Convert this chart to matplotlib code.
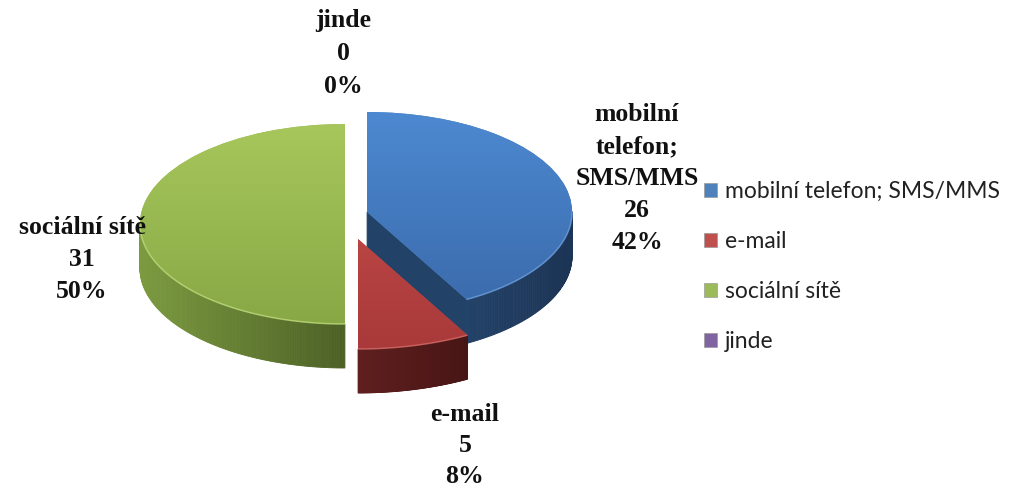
import numpy as np
import matplotlib
matplotlib.use("Agg")
import matplotlib.pyplot as plt
from matplotlib.colors import to_rgb

# ---------------- data ----------------
categories = ["mobilní telefon; SMS/MMS", "e-mail", "sociální sítě", "jinde"]
label_names = ["mobilní\ntelefon;\nSMS/MMS", "e-mail", "sociální sítě", "jinde"]
values = [26, 5, 31, 0]

# ---------------- style ----------------
W, H = 1013, 491
CX, CY = 356, 226          # pie centre (pixels from top-left)
RX, RY = 205, 100          # ellipse radii (pixels)
DEPTH = 44 / RY            # side depth in y data units

base_colors = ["#4f81bd", "#c0504d", "#9bbb59", "#8064a2"]
top_grad = [("#4d89d1", "#3a6aab"), ("#c9504d", "#a9393a"),
            ("#a7c75c", "#87a845"), ("#8a6fae", "#6f5592")]
side_grad = [("#234268", "#1c3455"), ("#601f1f", "#481515"),
             ("#7c9b40", "#4d6126"), ("#4f3c66", "#3f2f52")]
rim_colors = ["#6c9fdc", "#d26b68", "#bcd97a", "#9c86bd"]
offsets = [(0.054, 0.14), (0.01, -0.13), (-0.054, 0.02), (0.0, 0.0)]
radii = [1.0, 1.1, 1.0, 1.0]   # perspective: the front slice looks larger

label_pos = [(637, 116), (465, 416), (82, 229), (343, 22)]  # pixels, first line centre
label_spacing = [1.5, 1.45, 1.5, 1.55]
LAB_SIZE = 18.5

fig = plt.figure(figsize=(W / 100, H / 100), dpi=100)
ax = fig.add_axes([0, 0, 1, 1])

wedges, _ = ax.pie(values, colors=base_colors, startangle=90, counterclock=False,
                   radius=1.0, wedgeprops=dict(linewidth=0))


def mix(c1, c2, f):
    a, b = np.array(to_rgb(c1)), np.array(to_rgb(c2))
    return tuple(a + (b - a) * f)


order = sorted(range(len(wedges)), key=lambda i: -offsets[i][1])
for rank, i in enumerate(order):
    w = wedges[i]
    if values[i] == 0:
        w.set_visible(False)
        continue
    ox, oy = offsets[i]
    w.set_center((ox, oy))
    w.set_radius(radii[i])
    r = radii[i]
    w.set_zorder(20)
    t1, t2 = w.theta1, w.theta2
    zside = 2 + rank
    ts = np.linspace(t1, t2, 240)
    vis = [(a, b) for a, b in zip(ts[:-1], ts[1:]) if np.sin(np.radians(0.5 * (a + b))) <= 0.0]
    c_light, c_dark = side_grad[i]
    if vis:
        xs = [np.cos(np.radians(0.5 * (a + b))) for a, b in vis]
        xmin, xmax = min(xs), max(xs)
        span = max(xmax - xmin, 1e-6)
        for (a, b), xm in zip(vis, xs):
            f = (xmax - xm) / span  # 1 at left end, 0 at right end
            col = mix(c_dark, c_light, f)
            xa, ya = ox + r * np.cos(np.radians(a)), oy + r * np.sin(np.radians(a))
            xb, yb = ox + r * np.cos(np.radians(b)), oy + r * np.sin(np.radians(b))
            ax.fill([xa, xb, xb, xa], [ya, yb, yb - DEPTH, ya - DEPTH],
                    color=col, lw=0.6, ec=col, zorder=zside)
        # light rim along the front edge of the top face
        tv = np.radians(np.concatenate([[vis[0][0]], [b for _, b in vis]]))
        ax.plot(ox + r * np.cos(tv), oy + r * np.sin(tv), color=rim_colors[i],
                lw=1.1, alpha=0.8, zorder=22, solid_capstyle="butt")
    for t, n in ((t1, t1 - 90), (t2, t2 + 90)):
        if np.sin(np.radians(n)) < -0.05:
            ex, ey = ox + r * np.cos(np.radians(t)), oy + r * np.sin(np.radians(t))
            ax.fill([ox, ex, ex, ox], [oy, ey, ey - DEPTH, oy - DEPTH],
                    color=side_grad[i][0], lw=0.6, ec=side_grad[i][0], zorder=zside)
    g = np.linspace(0, 1, 128)[:, None]
    ct, cb = np.array(to_rgb(top_grad[i][0])), np.array(to_rgb(top_grad[i][1]))
    img = (ct[None, None, :] * (1 - g[:, :, None]) + cb[None, None, :] * g[:, :, None])
    im = ax.imshow(img, extent=(ox - r, ox + r, oy - r, oy + r), aspect="auto",
                   origin="upper", zorder=21, interpolation="bilinear")
    im.set_clip_path(w)

ax.set_aspect("auto")
ax.set_xlim((0 - CX) / RX, (W - CX) / RX)
ax.set_ylim((CY - H) / RY, CY / RY)
ax.axis("off")

total = sum(values)
lab_font = dict(family=["Liberation Serif", "DejaVu Serif"], weight="bold", size=LAB_SIZE)
for i in range(len(values)):
    pct = round(values[i] / total * 100)
    txt = f"{label_names[i]}\n{values[i]}\n{pct}%"
    px, py = label_pos[i]
    fig.text(px / W, 1 - (py - 13) / H, txt, ha="center", va="top", multialignment="center",
             linespacing=label_spacing[i], color="#111111", **lab_font)

leg = fig.legend(handles=wedges, labels=categories, loc="upper left",
                 bbox_to_anchor=(704 / W, 1 - 181 / H), frameon=False,
                 prop=dict(family=["Lato", "DejaVu Sans"], size=16.5),
                 handlelength=0.55, handleheight=0.55, handletextpad=0.38,
                 labelspacing=1.27, borderpad=0, borderaxespad=0)
for t in leg.get_texts():
    t.set_color("#222222")
for h in leg.legend_handles:
    h.set_visible(True)
    h.set_edgecolor("#9a9a9a")
    h.set_linewidth(0.5)

fig.savefig("out.png", dpi=100)
